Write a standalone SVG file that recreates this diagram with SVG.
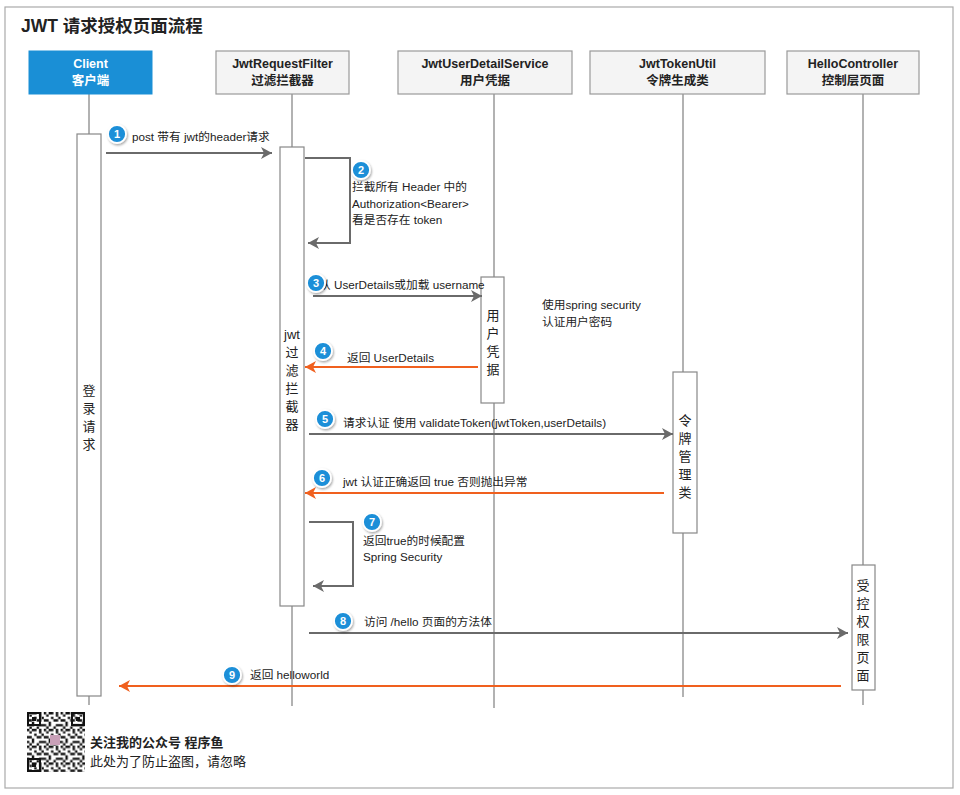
<svg xmlns="http://www.w3.org/2000/svg" width="960" height="795" viewBox="0 0 960 795">
<defs>
<style>
text{font-family:"Liberation Sans","Noto Sans CJK SC",sans-serif;fill:#222;}
.title{font-size:17.5px;font-weight:bold;}
.hd{font-size:12.5px;font-weight:bold;text-anchor:middle;}
.hdw{font-size:12.5px;font-weight:bold;text-anchor:middle;fill:#fff;}
.lbl{font-size:11.7px;}
.vt{font-size:13px;text-anchor:middle;}
.hbox{fill:#f4f4f4;stroke:#999;stroke-width:1.2;}
.act{fill:#fff;stroke:#888;stroke-width:1.2;}
.life{stroke:#999;stroke-width:1.5;fill:none;}
.ag{stroke:#6a6a6a;stroke-width:2;fill:none;}
.ao{stroke:#f0601e;stroke-width:2;fill:none;}
.bub{fill:#1b8fd8;stroke:#fff;stroke-width:1.8;}
.num{font-size:11px;font-weight:bold;fill:#fff;text-anchor:middle;}
.ft{font-size:13px;}
</style>
<marker id="mg" markerUnits="userSpaceOnUse" markerWidth="12" markerHeight="12" refX="11" refY="6" orient="auto">
<path d="M0,0 L11,6 L0,12 L3,6 z" fill="#6a6a6a"/>
</marker>
<marker id="mo" markerUnits="userSpaceOnUse" markerWidth="12" markerHeight="12" refX="11" refY="6" orient="auto">
<path d="M0,0 L11,6 L0,12 L3,6 z" fill="#f0601e"/>
</marker>
<filter id="sh" x="-50%" y="-50%" width="200%" height="200%">
<feDropShadow dx="1" dy="1.5" stdDeviation="1.2" flood-color="#000" flood-opacity="0.35"/>
</filter>
<pattern id="qr" x="27" y="712" width="16.8" height="16.8" patternUnits="userSpaceOnUse">
<rect width="16.8" height="16.8" fill="#fff"/>
<path d="M0,0h2.4v2.4h-2.4zM4.8,0h4.8v2.4h-4.8zM12,0h2.4v4.8h-2.4zM2.4,2.4h2.4v2.4h-2.4zM7.2,4.8h2.4v2.4h-2.4zM0,7.2h4.8v2.4h-4.8zM9.6,7.2h4.8v2.4h-4.8zM4.8,9.6h2.4v4.8h-2.4zM12,12h4.8v2.4h-4.8zM0,12h2.4v2.4h-2.4zM9.6,14.4h2.4v2.4h-2.4zM14.4,4.8h2.4v2.4h-2.4zM2.4,14.4h2.4v2.4h-2.4z" fill="#111"/>
</pattern>
</defs>
<rect x="0" y="0" width="960" height="795" fill="#fff"/>
<rect x="5" y="7" width="948" height="781" fill="#fff" stroke="#aaa" stroke-width="1.2"/>
<text class="title" x="21" y="32">JWT 请求授权页面流程</text>

<g id="lifelines">
<line class="life" x1="89" y1="94" x2="89" y2="705"/>
<line class="life" x1="292" y1="94" x2="292" y2="706"/>
<line class="life" x1="494" y1="94" x2="494" y2="708"/>
<line class="life" x1="683" y1="94" x2="683" y2="697"/>
<line class="life" x1="863" y1="94" x2="863" y2="705"/>
</g>

<g id="client">
<rect x="29" y="51" width="123" height="43" fill="#1a8fd6" stroke="#1a8fd6"/>
<text class="hdw" x="90.5" y="68">Client</text>
<text class="hdw" x="90.5" y="85">客户端</text>
</g>
<g id="filter">
<rect class="hbox" x="216" y="51" width="133" height="43"/>
<text class="hd" x="282.5" y="68">JwtRequestFilter</text>
<text class="hd" x="282.5" y="85">过滤拦截器</text>
</g>
<g id="userdetail">
<rect class="hbox" x="398" y="51" width="174" height="43"/>
<text class="hd" x="485" y="68">JwtUserDetailService</text>
<text class="hd" x="485" y="85">用户凭据</text>
</g>
<g id="tokenutil">
<rect class="hbox" x="590" y="51" width="175" height="43"/>
<text class="hd" x="677.5" y="68">JwtTokenUtil</text>
<text class="hd" x="677.5" y="85">令牌生成类</text>
</g>
<g id="hello">
<rect class="hbox" x="787" y="51" width="132" height="43"/>
<text class="hd" x="853" y="68">HelloController</text>
<text class="hd" x="853" y="85">控制层页面</text>
</g>

<g id="act-client">
<rect class="act" x="77" y="134" width="24" height="562"/>
<text class="vt" x="89" y="395">登</text>
<text class="vt" x="89" y="413">录</text>
<text class="vt" x="89" y="431">请</text>
<text class="vt" x="89" y="449">求</text>
</g>
<g id="act-filter">
<rect class="act" x="280" y="147" width="24" height="459"/>
<text class="vt" x="292" y="339">jwt</text>
<text class="vt" x="292" y="357">过</text>
<text class="vt" x="292" y="375">滤</text>
<text class="vt" x="292" y="393">拦</text>
<text class="vt" x="292" y="411">截</text>
<text class="vt" x="292" y="429">器</text>
</g>
<g id="act-userdetail">
<rect class="act" x="481" y="277" width="23" height="126"/>
<text class="vt" x="493" y="320">用</text>
<text class="vt" x="493" y="338">户</text>
<text class="vt" x="493" y="356">凭</text>
<text class="vt" x="493" y="374">据</text>
</g>
<g id="act-token">
<rect class="act" x="673" y="372" width="24" height="161"/>
<text class="vt" x="685" y="425">令</text>
<text class="vt" x="685" y="443">牌</text>
<text class="vt" x="685" y="461">管</text>
<text class="vt" x="685" y="479">理</text>
<text class="vt" x="685" y="497">类</text>
</g>
<g id="act-hello">
<rect class="act" x="852" y="565" width="23" height="125"/>
<text class="vt" x="863" y="590">受</text>
<text class="vt" x="863" y="608">控</text>
<text class="vt" x="863" y="626">权</text>
<text class="vt" x="863" y="644">限</text>
<text class="vt" x="863" y="662">页</text>
<text class="vt" x="863" y="680">面</text>
</g>

<g id="connectors">
<line class="ag" x1="106" y1="153" x2="272" y2="153" marker-end="url(#mg)"/>
<path class="ag" d="M305,158 H350 V243 H308" marker-end="url(#mg)"/>
<line class="ag" x1="313" y1="296" x2="482" y2="296" marker-end="url(#mg)"/>
<line class="ao" x1="478" y1="367" x2="305" y2="367" marker-end="url(#mo)"/>
<line class="ag" x1="309" y1="434" x2="673" y2="434" marker-end="url(#mg)"/>
<line class="ao" x1="664" y1="493" x2="305" y2="493" marker-end="url(#mo)"/>
<path class="ag" d="M309,522 H353 V586 H313" marker-end="url(#mg)"/>
<line class="ag" x1="309" y1="633" x2="848" y2="633" marker-end="url(#mg)"/>
<line class="ao" x1="841" y1="686" x2="119" y2="686" marker-end="url(#mo)"/>
</g>

<g id="labels">
<text class="lbl" x="132" y="141">post 带有 jwt的header请求</text>
<text class="lbl" x="352" y="191">拦截所有 Header 中的</text>
<text class="lbl" x="352" y="208">Authorization&lt;Bearer&gt;</text>
<text class="lbl" x="352" y="224">看是否存在 token</text>
<text class="lbl" x="319" y="289">从 UserDetails或加载 username</text>
<text class="lbl" x="542" y="309">使用spring security</text>
<text class="lbl" x="542" y="326">认证用户密码</text>
<text class="lbl" x="347" y="362">返回 UserDetails</text>
<text class="lbl" x="343" y="427">请求认证 使用 validateToken(jwtToken,userDetails)</text>
<text class="lbl" x="343" y="486">jwt 认证正确返回 true 否则抛出异常</text>
<text class="lbl" x="363" y="545">返回true的时候配置</text>
<text class="lbl" x="363" y="561">Spring Security</text>
<text class="lbl" x="364" y="626">访问 /hello 页面的方法体</text>
<text class="lbl" x="250" y="679">返回 helloworld</text>
</g>

<g id="steps">
<g filter="url(#sh)"><circle class="bub" cx="117" cy="134" r="9"/></g><text class="num" x="117" y="138">1</text>
<g filter="url(#sh)"><circle class="bub" cx="361" cy="170" r="9"/></g><text class="num" x="361" y="174">2</text>
<g filter="url(#sh)"><circle class="bub" cx="316" cy="283" r="9"/></g><text class="num" x="316" y="287">3</text>
<g filter="url(#sh)"><circle class="bub" cx="323" cy="351" r="9"/></g><text class="num" x="323" y="355">4</text>
<g filter="url(#sh)"><circle class="bub" cx="325" cy="419" r="9"/></g><text class="num" x="325" y="423">5</text>
<g filter="url(#sh)"><circle class="bub" cx="322" cy="478" r="9"/></g><text class="num" x="322" y="482">6</text>
<g filter="url(#sh)"><circle class="bub" cx="372" cy="522" r="9"/></g><text class="num" x="372" y="526">7</text>
<g filter="url(#sh)"><circle class="bub" cx="343" cy="621" r="9"/></g><text class="num" x="343" y="625">8</text>
<g filter="url(#sh)"><circle class="bub" cx="232" cy="675" r="9"/></g><text class="num" x="232" y="679">9</text>
</g>

<g id="footer">
<rect x="27" y="712" width="58" height="60" fill="url(#qr)"/>
<g fill="none" stroke="#111" stroke-width="2">
<rect x="28" y="713" width="12" height="12"/>
<rect x="72" y="713" width="12" height="12"/>
<rect x="28" y="759" width="12" height="12"/>
</g>
<g fill="#111">
<rect x="32" y="717" width="4" height="4"/>
<rect x="76" y="717" width="4" height="4"/>
<rect x="32" y="763" width="4" height="4"/>
</g>
<rect x="50" y="735" width="10" height="10" fill="#c9a0b8"/>
<text class="ft" x="90" y="747" font-weight="bold">关注我的公众号 程序鱼</text>
<text class="ft" x="90" y="766">此处为了防止盗图，请忽略</text>
</g>
</svg>
